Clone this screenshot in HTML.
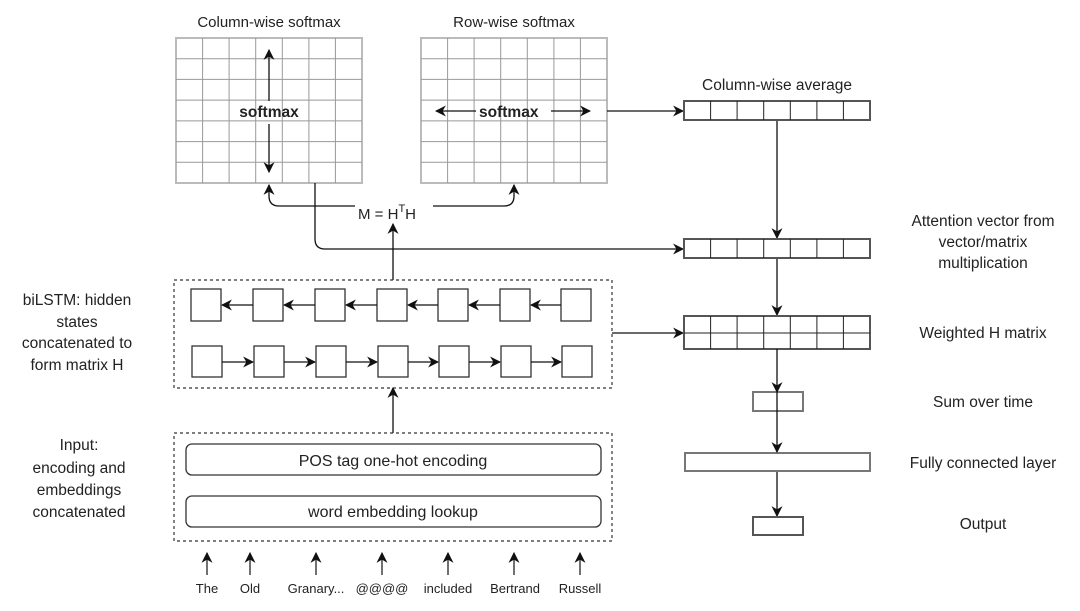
<!DOCTYPE html>
<html><head><meta charset="utf-8"><style>
html,body{margin:0;padding:0;background:#fff;}
svg{display:block;}
text{font-family:"Liberation Sans",sans-serif;fill:#222;}
</style></head><body>
<svg width="1080" height="611" viewBox="0 0 1080 611" xmlns="http://www.w3.org/2000/svg">
<defs>
<marker id="a" viewBox="0 0 10 10" refX="9" refY="5" markerWidth="11" markerHeight="11" markerUnits="userSpaceOnUse" orient="auto-start-reverse">
<path d="M0,0 L10,5 L0,10 L3,5 z" fill="#111"/></marker>
</defs>
<g stroke="#999" stroke-width="1" fill="none">
<rect x="176" y="38" width="186" height="145" stroke="#bbb" stroke-width="2"/>
<path d="M202.6,38V183M229.1,38V183M255.7,38V183M282.3,38V183M308.9,38V183M335.4,38V183M176,58.7H362M176,79.4H362M176,100.1H362M176,120.9H362M176,141.6H362M176,162.3H362"/>
<rect x="421" y="38" width="186" height="145" stroke="#bbb" stroke-width="2"/>
<path d="M447.6,38V183M474.1,38V183M500.7,38V183M527.3,38V183M553.9,38V183M580.4,38V183M421,58.7H607M421,79.4H607M421,100.1H607M421,120.9H607M421,141.6H607M421,162.3H607"/>
</g>
<text x="269" y="27" font-size="15" text-anchor="middle">Column-wise softmax</text>
<text x="514" y="27" font-size="15" text-anchor="middle">Row-wise softmax</text>
<text x="269" y="117" font-size="15.5" font-weight="bold" text-anchor="middle">softmax</text>
<g stroke="#111" stroke-width="1.3" fill="none">
<path d="M269,101V50" marker-end="url(#a)"/>
<path d="M269,124V172" marker-end="url(#a)"/>
<path d="M476,111H436" marker-end="url(#a)"/>
<path d="M551,111H590" marker-end="url(#a)"/>
<path d="M607,111H683" marker-end="url(#a)"/>
<path d="M355,206H279Q269,206 269,196V185" marker-end="url(#a)"/>
<path d="M433,206H504Q514,206 514,196V185" marker-end="url(#a)"/>
<path d="M315,183V239Q315,249 325,249H683" marker-end="url(#a)"/>
<path d="M393,280V224" marker-end="url(#a)"/>
<path d="M393,433V388" marker-end="url(#a)"/>
<path d="M612,333H683" marker-end="url(#a)"/>
<path d="M777,120V238" marker-end="url(#a)"/>
<path d="M777,258V315" marker-end="url(#a)"/>
<path d="M777,471V516" marker-end="url(#a)"/>
</g>
<text x="479" y="117" font-size="15.5" font-weight="bold" text-anchor="start">softmax</text>
<text x="358" y="219" font-size="15">M = H<tspan dy="-7" font-size="11">T</tspan><tspan dy="7">H</tspan></text>
<g stroke="#555" stroke-width="2" fill="#fff">
<rect x="684" y="101" width="186" height="19"/>
<rect x="684" y="239" width="186" height="19"/>
<rect x="684" y="316" width="186" height="33"/>
<rect x="753" y="392" width="50" height="19" stroke="#777"/>
<rect x="685" y="453" width="185" height="18" stroke="#777"/>
<rect x="753" y="517" width="50" height="18"/>
</g>
<g stroke="#111" stroke-width="1.3" fill="none">
<path d="M777,349V392" marker-end="url(#a)"/>
<path d="M777,392V452" marker-end="url(#a)"/>
</g>
<g stroke="#222" stroke-width="1" fill="none">
<path d="M710.6,101V120M737.1,101V120M763.7,101V120M790.3,101V120M816.9,101V120M843.4,101V120"/>
<path d="M710.6,239V258M737.1,239V258M763.7,239V258M790.3,239V258M816.9,239V258M843.4,239V258"/>
<path d="M710.6,316V349M737.1,316V349M763.7,316V349M790.3,316V349M816.9,316V349M843.4,316V349M684,333H870"/>
</g>
<g stroke="#333" stroke-width="1.2" fill="none" stroke-dasharray="3,3">
<rect x="174" y="280" width="438" height="108"/>
<rect x="174" y="433" width="438" height="108"/>
</g>
<g stroke="#333" stroke-width="1.3" fill="#fff">
<rect x="191" y="289" width="30" height="32"/><rect x="253" y="289" width="30" height="32"/><rect x="315" y="289" width="30" height="32"/><rect x="377" y="289" width="30" height="32"/><rect x="438" y="289" width="30" height="32"/><rect x="500" y="289" width="30" height="32"/><rect x="561" y="289" width="30" height="32"/>
<rect x="192" y="346" width="30" height="31"/><rect x="254" y="346" width="30" height="31"/><rect x="316" y="346" width="30" height="31"/><rect x="378" y="346" width="30" height="31"/><rect x="439" y="346" width="30" height="31"/><rect x="501" y="346" width="30" height="31"/><rect x="562" y="346" width="30" height="31"/>
<rect x="186" y="444" width="415" height="31" rx="6"/>
<rect x="186" y="496" width="415" height="31" rx="6"/>
</g>
<g stroke="#111" stroke-width="1.2" fill="none">
<path d="M253,305H222" marker-end="url(#a)"/><path d="M315,305H284" marker-end="url(#a)"/><path d="M377,305H346" marker-end="url(#a)"/><path d="M438,305H408" marker-end="url(#a)"/><path d="M500,305H469" marker-end="url(#a)"/><path d="M561,305H531" marker-end="url(#a)"/>
<path d="M222,362H253" marker-end="url(#a)"/><path d="M284,362H315" marker-end="url(#a)"/><path d="M346,362H377" marker-end="url(#a)"/><path d="M408,362H438" marker-end="url(#a)"/><path d="M469,362H500" marker-end="url(#a)"/><path d="M531,362H561" marker-end="url(#a)"/>
<path d="M207,575V553" marker-end="url(#a)"/><path d="M250,575V553" marker-end="url(#a)"/><path d="M316,575V553" marker-end="url(#a)"/><path d="M382,575V553" marker-end="url(#a)"/><path d="M448,575V553" marker-end="url(#a)"/><path d="M514,575V553" marker-end="url(#a)"/><path d="M580,575V553" marker-end="url(#a)"/>
</g>
<g font-size="16" text-anchor="middle">
<text x="393" y="466">POS tag one-hot encoding</text>
<text x="393" y="517">word embedding lookup</text>
</g>
<g font-size="13" text-anchor="middle">
<text x="207" y="593">The</text><text x="250" y="593">Old</text><text x="316" y="593">Granary...</text><text x="382" y="593">@@@@</text><text x="448" y="593">included</text><text x="515" y="593">Bertrand</text><text x="580" y="593">Russell</text>
</g>
<g font-size="15.5" text-anchor="middle">
<text x="77" y="305">biLSTM: hidden</text>
<text x="77" y="327">states</text>
<text x="77" y="348">concatenated to</text>
<text x="77" y="370">form matrix H</text>
<text x="79" y="450">Input:</text>
<text x="79" y="473">encoding and</text>
<text x="79" y="495">embeddings</text>
<text x="79" y="517">concatenated</text>
<text x="777" y="90">Column-wise average</text>
<text x="983" y="226">Attention vector from</text>
<text x="983" y="247">vector/matrix</text>
<text x="983" y="268">multiplication</text>
<text x="983" y="338">Weighted H matrix</text>
<text x="983" y="407">Sum over time</text>
<text x="983" y="468">Fully connected layer</text>
<text x="983" y="529">Output</text>
</g>
</svg>
</body></html>
